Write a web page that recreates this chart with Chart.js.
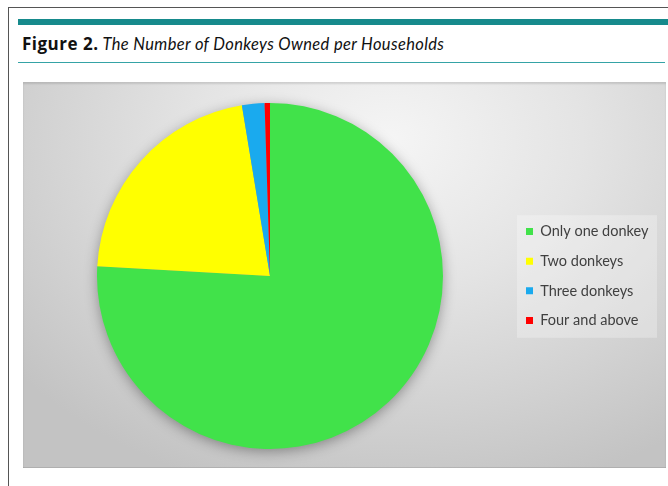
<!DOCTYPE html>
<html>
<head>
<meta charset="utf-8">
<script src="https://cdn.jsdelivr.net/npm/chart.js@4/dist/chart.umd.min.js"></script>
<style>
  html, body { margin:0; padding:0; background:#fff; width:668px; height:486px; overflow:hidden; }
  #frame { position:absolute; left:8px; top:7px; width:700px; height:520px; border-left:1px solid #555; border-top:1px solid #555; }
  #bar { position:absolute; left:18px; top:19px; width:660px; height:6px; background:#168a8c; }
  #caption { position:absolute; left:22px; top:32px; color:#111; white-space:nowrap; }
  #caption b { font-family:"Open Sans", Lato, sans-serif; font-size:17px; font-weight:700; letter-spacing:0.5px; }
  #caption i { font-family:Lato, "Open Sans", sans-serif; font-size:16.5px; font-style:italic; letter-spacing:0.35px; }
  #rule { position:absolute; left:18px; top:62px; width:647px; height:1px; background:#35a3a6; }
  #plot { position:absolute; left:23px; top:82px; width:643px; height:386px;
          background: radial-gradient(ellipse 75% 95% at 57% 15%, #f5f5f5 0%, #e4e4e4 40%, #d1d1d1 75%, #c3c3c3 100%);
          box-shadow: inset 0 2px 2px rgba(0,0,0,0.12), inset 0 -1px 0 rgba(0,0,0,0.10); }
  #plot canvas { position:absolute; left:0; top:0; }
</style>
</head>
<body>
<div id="frame"></div>
<div id="bar"></div>
<div id="caption"><b>Figure 2.</b> <i>The Number of Donkeys Owned per Households</i></div>
<div id="rule"></div>
<div id="plot"><canvas id="c" width="643" height="386"></canvas></div>
<script>
const categories = ["Only one donkey", "Two donkeys", "Three donkeys", "Four and above"];
const shares = [75.9, 21.5, 2.1, 0.5];
const sliceColors = ["#41e24a", "#ffff00", "#1aaaee", "#ff0000"];

const legendFont = { family: "Lato, 'Open Sans', sans-serif", size: 14.5 };
const legendPad = 15.2;
const boxW = 7;

// measure the widest label to place the legend
const mctx = document.createElement("canvas").getContext("2d");
mctx.font = legendFont.size + "px " + legendFont.family;
let maxText = 0;
categories.forEach(t => { maxText = Math.max(maxText, mctx.measureText(t).width); });
const legendWidth = legendPad + boxW + legendFont.size / 2 + maxText + 10;
const legendLeft = 503 - legendPad;
const padRight = Math.max(0, 643 - legendLeft - legendWidth);
const padLeft = 2 * 247 - legendLeft;

const pieShadow = {
  id: "pieShadow",
  beforeDatasetsDraw(chart) {
    const arc = chart.getDatasetMeta(0).data[0];
    if (!arc) return;
    const ctx = chart.ctx;
    ctx.save();
    ctx.shadowColor = "rgba(0,0,0,0.38)";
    ctx.shadowBlur = 14;
    ctx.shadowOffsetY = 3;
    ctx.fillStyle = "#9a9a9a";
    ctx.beginPath();
    ctx.arc(arc.x, arc.y, arc.outerRadius - 1, 0, Math.PI * 2);
    ctx.fill();
    ctx.restore();
  }
};

const legendBg = {
  id: "legendBg",
  beforeDraw(chart) {
    const lg = chart.legend;
    if (!lg || !lg.legendHitBoxes || !lg.legendHitBoxes.length) return;
    const hb = lg.legendHitBoxes;
    const x0 = hb[0].left - 9;
    const y0 = hb[0].top - 9;
    const x1 = chart.width - 9;
    const last = hb[hb.length - 1];
    const y1 = last.top + last.height + 10;
    const ctx = chart.ctx;
    ctx.save();
    ctx.fillStyle = "rgba(255,255,255,0.28)";
    ctx.fillRect(x0, y0, x1 - x0, y1 - y0);
    ctx.restore();
  }
};

new Chart(document.getElementById("c"), {
  type: "pie",
  data: {
    labels: categories,
    datasets: [{
      data: shares,
      backgroundColor: sliceColors,
      borderWidth: 0
    }]
  },
  options: {
    responsive: false,
    animation: false,
    layout: { padding: { left: padLeft, right: padRight, top: 21, bottom: 19 } },
    plugins: {
      legend: {
        position: "right",
        labels: {
          boxWidth: boxW,
          boxHeight: boxW,
          padding: legendPad,
          color: "#404040",
          font: legendFont
        }
      },
      tooltip: { enabled: false }
    }
  },
  plugins: [legendBg, pieShadow]
});
</script>
</body>
</html>
